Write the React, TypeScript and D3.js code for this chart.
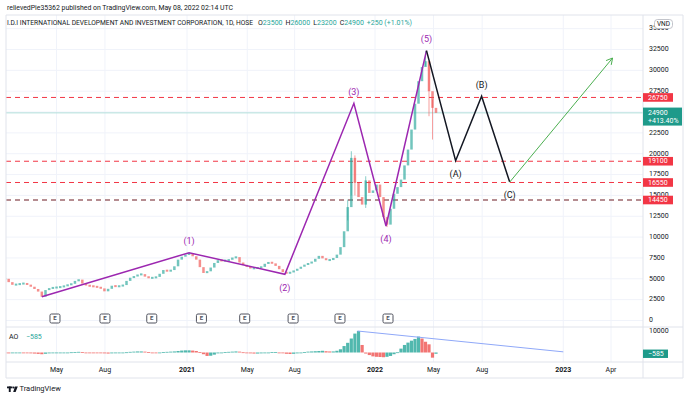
import React from 'react';
import * as d3 from 'd3';

const W = 690;
const H = 399;

// ---- data ----
const firstBar = '2020-01-24'; // weekly bars, one per week
const closes = [
  5000, 4600, 4280, 4330, 4400, 4460, 4300, 4050, 3780, 3470,
  2860, 3650, 3880, 3930, 3980, 4030, 4150, 4290, 4400, 4750,
  4900, 4430, 4200, 4130, 4070, 4000, 3850, 3500, 3800, 4170,
  4080, 4130, 4250, 4750, 5130, 5290, 5500, 5560, 5260, 5110,
  5120, 5230, 5600, 6050, 5900, 6050, 6500, 7300, 7650, 7900,
  8050, 7700, 7300, 6400, 5700, 5900, 6350, 6900, 7230, 7170,
  7200, 7280, 7550, 7600, 6950, 6650, 6450, 6260, 6260, 6330,
  6430, 6800, 7000, 6850, 6550, 6150, 5800, 5650, 5800, 5970,
  6200, 6450, 6700, 6850, 7050, 7400, 7750, 7450, 7250, 7250,
  7500, 7900, 8800, 10700, 13600, 19500, 16500, 14800, 13900, 16800,
  15300, 15600, 16300, 14800, 12400, 11500, 13400, 15200, 16000, 16900,
  18600, 20500, 22900, 26000, 28700, 30400, 31100, 27500, 25500, 24900,
];
const aoValues = [
  -300, -400, -350, -300, -250, -300, -350, -400, -500, -650,
  -800, -600, -400, -300, -200, -150, -100, 0, 100, 200,
  300, 200, 0, -100, -200, -250, -300, -400, -500, -400,
  -250, -100, 0, 100, 300, 400, 500, 500, 400, 200,
  0, -100, 0, 200, 300, 400, 500, 700, 900, 1000,
  1000, 900, 700, 200, -800, -1600, -1500, -1000, -400, 0,
  200, 300, 400, 500, 400, 100, -200, -400, -500, -500,
  -400, -200, 0, 200, 200, 0, -300, -600, -700, -600,
  -400, -100, 200, 400, 500, 600, 700, 800, 600, 500,
  500, 800, 1500, 3000, 4500, 6500, 8800, 10000, 3500, -500,
  -1200, -1800, -2000, -2100, -2200, -2000, -1600, -800, 100, 1800,
  3500, 4600, 5500, 6300, 7400, 6500, 5000, 3800, -2400, -585,
];
const wickIdx = [94, 95, 96, 99, 105, 116, 117, 118];
const wickHigh = [14500, 20300, 19800, 17300, 12000, 32300, 31000, 26500];
const wickLow = [12000, 15000, 15000, 13500, 11200, 30500, 24500, 21700];

const impulseDates = ['2020-04-03', '2021-01-08', '2021-07-13', '2021-11-24', '2022-01-26', '2022-04-17'];
const impulsePrices = [2855, 8130, 5540, 26050, 11330, 32360];
const impulseLabels = ['', '(1)', '(2)', '(3)', '(4)', '(5)'];
const correctionDates = ['2022-04-17', '2022-06-12', '2022-07-31', '2022-09-22'];
const correctionPrices = [32360, 19165, 26900, 16600];
const correctionLabels = ['', '(A)', '(B)', '(C)'];
const projectionDates = ['2022-09-22', '2023-04-04'];
const projectionPrices = [16600, 31480];

const aoTrendDates = ['2021-12-01', '2023-01-01'];
const aoTrendValues = [10000, 300];

const levels = [26750, 19100, 16550, 14450];
const levelColors = ['#f23645', '#f23645', '#f23645', '#6d1b22'];
const lastPrice = 24900;
const lastChange = '+413.40%';
const lastAO = -585;

const earningsDates = ['2020-04-28', '2020-08-01', '2020-10-29', '2021-02-01', '2021-04-26', '2021-07-29', '2021-10-28', '2022-01-30'];

const priceTicks = d3.range(0, 35001, 2500);
const timeTickDates = ['2020-05-01', '2020-08-01', '2021-01-04', '2021-05-01', '2021-08-01', '2022-01-04', '2022-05-01', '2022-08-01', '2023-01-01', '2023-04-01'];
const timeTickLabels = ['May', 'Aug', '2021', 'May', 'Aug', '2022', 'May', 'Aug', '2023', 'Apr'];
const timeTickBold = [false, false, true, false, false, true, false, false, true, false];

// bar-index style time axis anchors
const xAnchorDates = ['2020-01-24', '2021-01-04', '2022-01-04', '2022-05-06', '2023-04-01'];
const xAnchorPx = [5, 187, 375, 436, 611];

// ---- layout ----
const L = 6, PR = 643, AR = 683, TOP = 15, PB = 327, AOB = 362, TB = 378;
const FONT = 'Roboto, "Noto Sans", sans-serif';
const GREEN = '#26a69a';
const RED = '#ef5350';

const pd = (s: string) => new Date(s + 'T00:00:00Z');

export default function App() {
  const x = d3.scaleUtc().domain(xAnchorDates.map(pd)).range(xAnchorPx);
  const y = d3.scaleLinear().domain([0, 32500]).range([320.5, 49.5]);
  const ya = d3.scaleLinear().domain([0, 10000]).range([352.5, 331]);
  const barDates = closes.map((_, i) => d3.utcDay.offset(pd(firstBar), 7 * i));

  const line = d3.line<[Date, number]>().x((d) => x(d[0])).y((d) => y(d[1]));
  const impulse: [Date, number][] = impulseDates.map((d, i) => [pd(d), impulsePrices[i]]);
  const correction: [Date, number][] = correctionDates.map((d, i) => [pd(d), correctionPrices[i]]);
  const projection: [Date, number][] = projectionDates.map((d, i) => [pd(d), projectionPrices[i]]);

  const pEnd = projection[1];
  const pStart = projection[0];
  const ex = x(pEnd[0]), ey = y(pEnd[1]);
  const ang = Math.atan2(ey - y(pStart[1]), ex - x(pStart[0]));
  const ah = 7;
  const a1 = [ex - ah * Math.cos(ang - 0.5), ey - ah * Math.sin(ang - 0.5)];
  const a2 = [ex - ah * Math.cos(ang + 0.5), ey - ah * Math.sin(ang + 0.5)];

  const bw = 2.5;
  const aoBw = 3.2;

  const labelOffset = (arr: number[], i: number) => {
    const prev = arr[i - 1];
    return arr[i] > prev ? -11 : 14;
  };

  return (
    <svg width={W} height={H} viewBox={`0 0 ${W} ${H}`} style={{ position: 'absolute', left: 0, top: 0, display: 'block', background: '#fff' }} fontFamily={FONT}>
      <defs>
        <clipPath id="pricePane"><rect x={L} y={TOP} width={PR - L} height={PB - TOP} /></clipPath>
        <clipPath id="aoPane"><rect x={L} y={PB} width={PR - L} height={AOB - PB} /></clipPath>
      </defs>
      <rect x={0} y={0} width={W} height={H} fill="#fff" />

      {/* grid */}
      {priceTicks.map((t) => (
        <line key={'hg' + t} x1={L} x2={PR} y1={y(t)} y2={y(t)} stroke="#f0f3fa" strokeWidth={1} />
      ))}
      {timeTickDates.map((d) => (
        <line key={'vg' + d} x1={x(pd(d))} x2={x(pd(d))} y1={TOP} y2={AOB} stroke="#f0f3fa" strokeWidth={1} />
      ))}

      {/* header */}
      <text x={7} y={10} fontSize={7} fill="#131722" textLength={226} lengthAdjust="spacingAndGlyphs">relievedPie35362 published on TradingView.com, May 08, 2022 02:14 UTC</text>
      <text x={7} y={25} fontSize={6.4} fill="#131722" textLength={246} lengthAdjust="spacingAndGlyphs">I.D.I INTERNATIONAL DEVELOPMENT AND INVESTMENT CORPORATION, 1D, HOSE</text>
      <text x={258} y={25} fontSize={7} fill="#131722">
        O<tspan fill={GREEN}>23500</tspan>
        <tspan dx={3}>H</tspan><tspan fill={GREEN}>26000</tspan>
        <tspan dx={3}>L</tspan><tspan fill={GREEN}>23200</tspan>
        <tspan dx={3}>C</tspan><tspan fill={GREEN}>24900</tspan>
        <tspan dx={3} fill={GREEN}>+250 (+1.01%)</tspan>
      </text>

      {/* level lines */}
      <line x1={L} x2={PR} y1={y(lastPrice)} y2={y(lastPrice)} stroke="#b2dfdb" strokeWidth={1} />
      {levels.map((lv, i) => (
        <line key={'lv' + lv} x1={L} x2={PR} y1={y(lv)} y2={y(lv)} stroke={levelColors[i]} strokeWidth={1} strokeDasharray="5 4" />
      ))}

      {/* candles */}
      <g clipPath="url(#pricePane)">
        {wickIdx.map((bi, k) => {
          const o = bi > 0 ? closes[bi - 1] : closes[bi];
          const c = closes[bi];
          return (
            <line key={'w' + bi} x1={x(barDates[bi])} x2={x(barDates[bi])} y1={y(wickHigh[k])} y2={y(wickLow[k])} stroke={c >= o ? GREEN : RED} strokeOpacity={0.7} strokeWidth={0.8} />
          );
        })}
        {closes.map((c, i) => {
          const o = i > 0 ? closes[i - 1] : c;
          const top = y(Math.max(o, c));
          const bot = y(Math.min(o, c));
          const h = Math.max(bot - top, 2);
          return (
            <rect key={'c' + i} x={x(barDates[i]) - bw / 2} y={top - (h - (bot - top)) / 2} width={bw} height={h} fill={c >= o ? GREEN : RED} fillOpacity={0.65} />
          );
        })}
      </g>

      {/* waves */}
      <path d={line(impulse) || ''} fill="none" stroke="#9c27b0" strokeWidth={1.5} strokeLinejoin="miter" />
      <path d={line(correction) || ''} fill="none" stroke="#131722" strokeWidth={1.5} />
      <path d={line(projection) || ''} fill="none" stroke="#4caf50" strokeWidth={1} />
      <path d={`M${a1[0]},${a1[1]} L${ex},${ey} L${a2[0]},${a2[1]}`} fill="none" stroke="#4caf50" strokeWidth={1} />
      {impulseLabels.map((lb, i) => lb ? (
        <text key={'il' + i} x={x(pd(impulseDates[i]))} y={y(impulsePrices[i]) + labelOffset(impulsePrices, i)} fontSize={9} fill="#9c27b0" textAnchor="middle" dominantBaseline="middle">{lb}</text>
      ) : null)}
      {correctionLabels.map((lb, i) => lb ? (
        <text key={'cl' + i} x={x(pd(correctionDates[i]))} y={y(correctionPrices[i]) + labelOffset(correctionPrices, i)} fontSize={9} fill="#131722" textAnchor="middle" dominantBaseline="middle">{lb}</text>
      ) : null)}

      {/* earnings markers */}
      {earningsDates.map((d) => (
        <g key={'e' + d} transform={`translate(${x(pd(d))},318.5)`}>
          <rect x={-5} y={-4.5} width={10} height={9} rx={1.5} fill="#fff" stroke="#50535e" strokeWidth={1} />
          <text x={0} y={0.3} fontSize={6} fontWeight={700} fill="#50535e" textAnchor="middle" dominantBaseline="middle">E</text>
        </g>
      ))}

      {/* AO pane */}
      <g clipPath="url(#aoPane)">
        {aoValues.map((v, i) => {
          const up = i === 0 ? v >= 0 : v >= aoValues[i - 1];
          const y0 = ya(0), y1 = ya(v);
          return (
            <rect key={'ao' + i} x={x(barDates[i]) - aoBw / 2} y={Math.min(y0, y1)} width={aoBw} height={Math.max(Math.abs(y1 - y0), 0.8)} fill={up ? GREEN : RED} fillOpacity={0.8} />
          );
        })}
      </g>
      <line x1={x(pd(aoTrendDates[0]))} y1={ya(aoTrendValues[0])} x2={x(pd(aoTrendDates[1]))} y2={ya(aoTrendValues[1])} stroke="#8fa8f8" strokeWidth={1} />
      <text x={9} y={339} fontSize={7} fill="#131722">AO</text>
      <text x={26} y={339} fontSize={7} fill={GREEN}>{'\u2212' + Math.abs(lastAO)}</text>

      {/* frame */}
      <g stroke="#e0e3eb" strokeWidth={1} fill="none">
        <line x1={L} x2={AR} y1={TOP} y2={TOP} />
        <line x1={L} x2={AR} y1={PB} y2={PB} />
        <line x1={L} x2={AR} y1={AOB} y2={AOB} />
        <line x1={L} x2={AR} y1={TB} y2={TB} />
        <line x1={L} x2={L} y1={TOP} y2={TB} />
        <line x1={PR} x2={PR} y1={TOP} y2={TB} />
        <line x1={AR} x2={AR} y1={TOP} y2={TB} />
      </g>

      {/* price axis */}
      {priceTicks.map((t) => (
        <text key={'pt' + t} x={649} y={y(t)} fontSize={7} fill="#131722" dominantBaseline="middle">{t}</text>
      ))}
      {levels.map((lv) => (
        <g key={'lb' + lv}>
          <rect x={PR} y={y(lv) - 4.3} width={30} height={8.6} fill="#f23645" />
          <text x={648} y={y(lv) + 0.3} fontSize={7} fill="#fff" dominantBaseline="middle">{lv}</text>
        </g>
      ))}
      <rect x={PR} y={y(lastPrice) - 5.3} width={39} height={18} fill="#1e9a8a" />
      <text x={648} y={y(lastPrice)} fontSize={7} fill="#fff" dominantBaseline="middle">{lastPrice}</text>
      <text x={648} y={y(lastPrice) + 8} fontSize={7} fill="#fff" dominantBaseline="middle">{lastChange}</text>
      <rect x={654.5} y={19.5} width={18} height={9} rx={3} fill="#fff" stroke="#b2b5be" strokeWidth={0.8} />
      <text x={663.5} y={24.3} fontSize={6.5} fill="#131722" textAnchor="middle" dominantBaseline="middle">VND</text>

      {/* AO axis */}
      <text x={649} y={ya(10000)} fontSize={7} fill="#131722" dominantBaseline="middle">10000</text>
      <rect x={PR} y={ya(lastAO) - 4.2} width={25} height={8.4} fill="#1e9a8a" />
      <text x={648} y={ya(lastAO) + 0.3} fontSize={7} fill="#fff" dominantBaseline="middle">{'\u2212' + Math.abs(lastAO)}</text>

      {/* time axis */}
      {timeTickDates.map((d, i) => (
        <text key={'tt' + d} x={x(pd(d))} y={370.5} fontSize={7} fill="#131722" fontWeight={timeTickBold[i] ? 700 : 400} textAnchor="middle" dominantBaseline="middle">{timeTickLabels[i]}</text>
      ))}

      {/* logo */}
      <g fill="#131722">
        <rect x={7} y={386.5} width={5.5} height={1.8} />
        <rect x={8.8} y={386.5} width={1.9} height={5.5} />
        <circle cx={13.6} cy={387.4} r={1} />
        <path d="M15 386.5 L17.8 386.5 L15.6 392 L13.2 392 Z" />
      </g>
      <text x={19.5} y={389.5} fontSize={7.5} fill="#131722" dominantBaseline="middle">TradingView</text>
    </svg>
  );
}
